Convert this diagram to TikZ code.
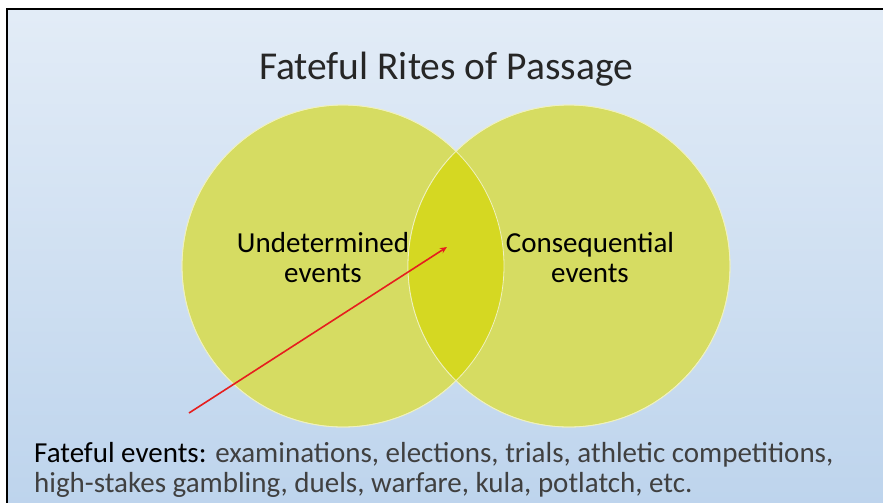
\documentclass[tikz,border=0pt]{standalone}
\usepackage{fontspec}
\setmainfont{Carlito}
\usetikzlibrary{positioning,arrows.meta}

\definecolor{vennfill}{RGB}{214,220,98}
\definecolor{lensfill}{RGB}{213,216,34}
\definecolor{bgtop}{RGB}{245,248,252}
\definecolor{bgblue}{RGB}{180,206,234}
\definecolor{bgbot}{RGB}{198,217,238}
\definecolor{txtgray}{RGB}{64,64,64}
\definecolor{arrowred}{RGB}{230,30,30}
\pgfdeclareverticalshading{slidebg}{100bp}{color(0bp)=(bgbot); color(12bp)=(bgblue); color(100bp)=(bgtop)}

\tikzset{
  venn/.style={circle, fill=vennfill, draw=white!60!vennfill, line width=0.8pt, minimum size=322pt, inner sep=0pt},
  vennlabel/.style={align=center, font=\fontsize{29}{30}\selectfont, text=black},
}

\begin{document}
\begin{tikzpicture}[x=1pt,y=-1pt]
\useasboundingbox (0,0) rectangle (883,503);
% slide background
\fill[white] (0,0) rectangle (883,503);
\shade[shading=slidebg] (7,9) rectangle (883,503);
\draw[line width=2.5pt] (7,503) -- (7,9) -- (883,9);

\node[font=\fontsize{39.5}{41}\selectfont, text=black!85] (title) at (446,69) {Fateful Rites of Passage};

% the two sets
\node[venn] (undet) at (343,266) {};
\node[venn] (conseq) at (569,266) {};
\begin{scope}
\clip (343,266) circle (161);
\fill[lensfill] (569,266) circle (161);
\end{scope}
\draw[white!60!vennfill, line width=0.8pt] (343,266) circle (161);
\draw[white!60!vennfill, line width=0.8pt] (569,266) circle (161);

\node[vennlabel] (undetlabel) at (323,258) {Undetermined\\events};
\node[vennlabel] (conseqlabel) at (590,258) {Consequential\\events};

\node[anchor=north west, align=left, inner sep=0pt, font=\fontsize{29}{30}\selectfont, text=txtgray] (fateful) at (34,442)
{\textcolor{black}{Fateful events:} examinations, elections, trials, athletic competitions,\\high-stakes gambling, duels, warfare, kula, potlatch, etc.};

\coordinate (tail) at (189,413);
\coordinate (lens) at (447,247);
\draw[arrowred, line width=1.6pt, -{Stealth[length=7pt,width=6pt]}] (tail) -- (lens);
\end{tikzpicture}
\end{document}
